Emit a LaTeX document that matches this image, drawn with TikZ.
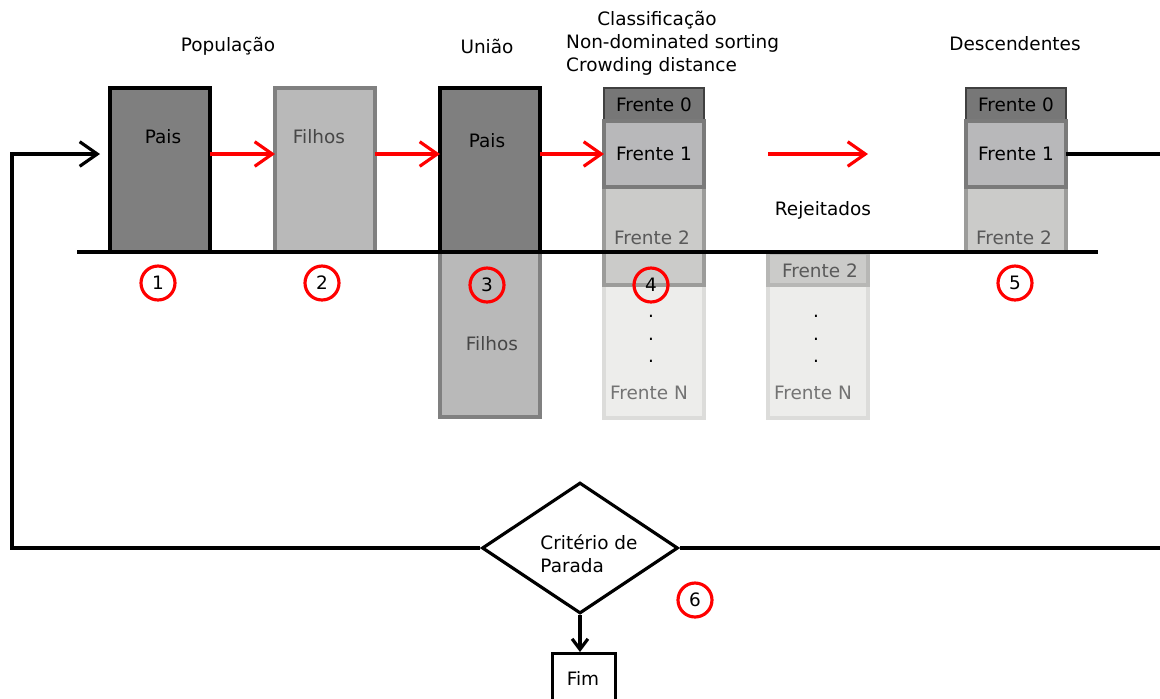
\documentclass[tikz,border=0pt]{standalone}
\usepackage{fontspec}
\setmainfont{DejaVu Sans}
\usetikzlibrary{arrows.meta,shapes.geometric}
\definecolor{cpai}{HTML}{7F7F7F}
\definecolor{cfil}{HTML}{B9B9B9}
\definecolor{cfilb}{HTML}{808080}
\definecolor{czero}{HTML}{777777}
\definecolor{cum}{HTML}{B8B8BA}
\definecolor{cumb}{HTML}{7A7A7A}
\definecolor{cdois}{HTML}{CBCBC9}
\definecolor{cdoisb}{HTML}{9C9C9A}
\definecolor{cene}{HTML}{EDEDEB}
\definecolor{ceneb}{HTML}{DCDCDA}
\tikzset{>={Straight Barb[length=10pt,width=14pt]}}

\begin{document}
\begin{tikzpicture}[x=0.02cm, y=-0.02cm, font=\fontsize{10.5}{13}\selectfont,
    caixa/.style={draw, line width=1.8pt, inner sep=0pt, outer sep=0pt, anchor=north west, minimum width=2cm},
    pais/.style={caixa, fill=cpai, draw=black, minimum height=3.28cm},
    filhos/.style={caixa, fill=cfil, draw=cfilb},
    fzero/.style={caixa, fill=czero, draw=black!75, line width=1pt, minimum height=0.66cm},
    fum/.style={caixa, fill=cum, draw=cumb, minimum height=1.32cm},
    fdois/.style={caixa, fill=cdois, draw=cdoisb},
    fene/.style={caixa, fill=cene, draw=ceneb, minimum height=2.66cm},
    num/.style={circle, draw=red, line width=1.8pt, minimum size=0.68cm, inner sep=0pt},
    seta/.style={->, red, line width=1.8pt},
    laco/.style={line width=1.8pt}]
    \useasboundingbox (0,0) rectangle (1160,698);
    \coordinate (nivel) at (0,154);
    \coordinate (dir) at (1163,0);
    \coordinate (esq) at (12,0);
    % populacao e uniao
    \node[pais] (p1) at (110,88) {};
    \node[filhos, minimum height=3.28cm] (f2) at (275,88) {};
    \node[filhos, minimum height=3.3cm] (u3f) at (440,252) {};
    \node[pais] (u3) at (440,88) {};
    % classificacao
    \node[fene] (c4n) at (604,285) {};
    \node[fdois, minimum height=1.96cm] (c4d) at (604,187) {};
    \node[fzero] (c4z) at (604,88) {Frente 0};
    \node[fum] (c4u) at (604,121) {Frente 1};
    % rejeitados
    \node[fene] (rjn) at (768,285) {};
    \node[fdois, draw=cdois!90!black, minimum height=0.64cm] (rjd) at (768,253) {};
    % descendentes
    \node[fdois, minimum height=1.3cm] (d5d) at (966,187) {};
    \node[fzero] (d5z) at (966,88) {Frente 0};
    \node[fum] (d5u) at (966,121) {Frente 1};
    \draw[line width=1.8pt] (77,252) coordinate (la) -- (1098,252) coordinate (lb);
    % textos
    \node (t1) at (163,137) {Pais};
    \node[black!72] (t2) at (319,137) {Filhos};
    \node (t3) at (487,141) {Pais};
    \node[black!72] (t3f) at (492,344) {Filhos};
    \node[black!65] (t4d) at (652,238) {Frente 2};
    \node[align=center] (t4p) at (651,339) {.\\.\\.};
    \node[black!55] (t4n) at (649,393) {Frente N};
    \node[black!65] (trd) at (820,271) {Frente 2};
    \node[align=center] (trp) at (816,339) {.\\.\\.};
    \node[black!55] (trn) at (813,393) {Frente N};
    \node[black!65] (t5d) at (1014,238) {Frente 2};
    \node (pop) at (228,46) {População};
    \node (uni) at (487,46) {União};
    \node (cls) at (657,20) {Classificação};
    \node[anchor=west] (nds) at (560,43) {Non-dominated sorting};
    \node[anchor=west] (crd) at (560,66) {Crowding distance};
    \node (des) at (1015,44) {Descendentes};
    \node (rej) at (823,210) {Rejeitados};
    % numeros
    \node[num] (n1) at (158,283) {1};
    \node[num] (n2) at (322,283) {2};
    \node[num] (n3) at (487,285) {3};
    \node[num] (n4) at (651,285) {4};
    \node[num] (n5) at (1015,283) {5};
    \node[num] (n6) at (695,600) {6};
    % setas
    \draw[seta] (p1.east |- nivel) -- (f2.west |- nivel);
    \draw[seta] (f2.east |- nivel) -- (u3.west |- nivel);
    \draw[seta] (u3.east |- nivel) -- (c4u.west |- nivel);
    \coordinate (ra) at (768,154);
    \coordinate (rb) at (868,154);
    \draw[seta] (ra) -- (rb);
    % parada
    \node[diamond, draw, line width=1.8pt, minimum width=3.92cm, minimum height=2.62cm, inner sep=0pt] (dia) at (580,548) {};
    \node[align=left] (crt) at (589,554) {Critério de\\Parada};
    \node[draw, line width=1.8pt, anchor=north west, minimum width=1.26cm, minimum height=1.2cm] (fim) at (551,652) {};
    \node (tfim) at (583,678) {Fim};
    \draw[laco, ->, >={Straight Barb[length=6pt,width=9pt]}] (dia.south) -- (dia.south |- fim.north);
    \coordinate (ent) at (100,154);
    \draw[laco, ->] (dia.west) -- (esq |- dia) -- (esq |- nivel) -- (ent);
    \draw[laco] (d5u.east |- nivel) -- (dir |- nivel) -- (dir |- dia) -- (dia.east);
\end{tikzpicture}
\end{document}
